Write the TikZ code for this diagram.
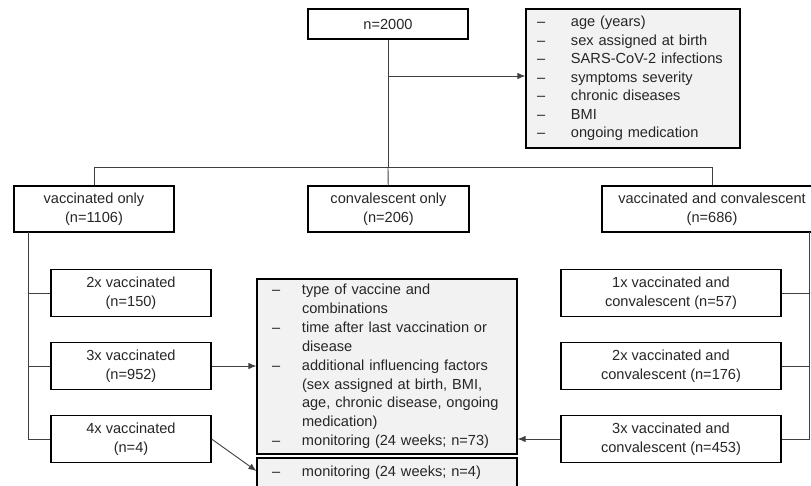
\documentclass[tikz,border=0pt]{standalone}
\usepackage{fontspec}
\setmainfont{Liberation Sans}
\usepackage{array}
\usetikzlibrary{arrows.meta}

\tikzset{
	box/.style={draw, line width=1.2pt, inner sep=0pt, align=center, minimum height=47pt},
	listbox/.style={draw, line width=1.2pt, fill=black!5, inner ysep=0pt, align=left},
	link/.style={line width=0.9pt, black!75},
	tip/.style={-{Latex[length=8pt,width=6.5pt]}},
}

\begin{document}
\begin{tikzpicture}[x=1pt, y=-1pt, text=black!85,
	font=\fontsize{14.6}{18.5}\selectfont]
	\useasboundingbox (0,0) rectangle (811,486);
	\clip (0,0) rectangle (811,486);
	\node (all) at (388,24) [box, minimum width=160pt, minimum height=30pt] {n=2000};
	\node (risk) at (633,78.5) [listbox, text width=192pt, inner xsep=11pt, minimum height=139pt]
		{\begin{tabular}{@{}p{34pt}@{}l@{}}
		-- & age (years)\\
		-- & sex assigned at birth\\
		-- & SARS-CoV-2 infections\\
		-- & symptoms severity\\
		-- & chronic diseases\\
		-- & BMI\\
		-- & ongoing medication
		\end{tabular}};
		\node (vo) at (94,209) [box, minimum width=160pt, minimum height=46pt] {vaccinated only\\(n=1106)};
		\node (co) at (388.5,209) [box, minimum width=161pt, minimum height=46pt] {convalescent only\\(n=206)};
		\node (vc) at (712,209) [box, minimum width=220pt, minimum height=46pt] {vaccinated and convalescent\\(n=686)};
			\node (v2) at (131,293) [box, minimum width=160pt] {2x vaccinated\\(n=150)};
			\node (v3) at (131,366) [box, minimum width=160pt] {3x vaccinated\\(n=952)};
			\node (v4) at (131,439) [box, minimum width=160pt] {4x vaccinated\\(n=4)};
			\node (w1) at (671,293) [box, minimum width=220pt] {1x vaccinated and\\convalescent (n=57)};
			\node (w2) at (671,366) [box, minimum width=220pt] {2x vaccinated and\\convalescent (n=176)};
			\node (w3) at (671,439) [box, minimum width=220pt] {3x vaccinated and\\convalescent (n=453)};
	\node (out) at (387,366.5) [listbox, text width=230pt, inner xsep=15pt, minimum height=175pt]
		{\begin{tabular}{@{}p{30pt}@{}l@{}}
		-- & type of vaccine and\\
		   & combinations\\[1pt]
		-- & time after last vaccination or\\
		   & disease\\[1pt]
		-- & additional influencing factors\\
		   & (sex assigned at birth, BMI,\\
		   & age, chronic disease, ongoing\\
		   & medication)\\[1pt]
		-- & monitoring (24 weeks; n=73)
		\end{tabular}};
	\node (mon) at (387,473) [listbox, text width=230pt, inner xsep=15pt, minimum height=30pt]
		{\begin{tabular}{@{}p{30pt}@{}l@{}}
		-- & monitoring (24 weeks; n=4)
		\end{tabular}};
	\coordinate (fork) at (388,76);
	\coordinate (branch) at (388,167);
	\coordinate (lspine) at (28,232);
	\coordinate (rspine) at (809,232);
	\draw[link] (all) -- (branch);
	\draw[link][tip] (fork) -- (fork -| risk.west);
	\draw[link] (vo) -- (vo |- branch) -- (vc |- branch) -- (vc);
	\draw[link] (co) -- (branch);
	\draw[link] (lspine) |- (v4);
	\draw[link] (v2 -| lspine) -- (v2);
	\draw[link] (v3 -| lspine) -- (v3);
	\draw[link] (rspine) |- (w3);
	\draw[link] (w1 -| rspine) -- (w1);
	\draw[link] (w2 -| rspine) -- (w2);
	\draw[link][tip] (v3) -- (v3 -| out.west);
	\draw[link][tip] (w3) -- (w3 -| out.east);
	\draw[link][tip] (v4.east) -- ([yshift=2pt]mon.west);
\end{tikzpicture}
\end{document}
